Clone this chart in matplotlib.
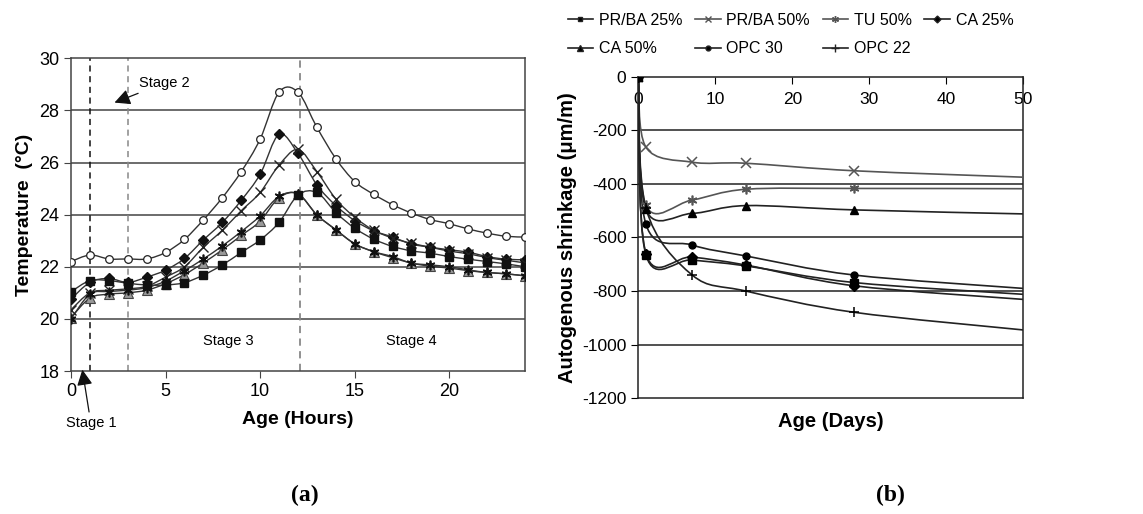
import matplotlib
matplotlib.use("Agg")
import matplotlib.pyplot as plt
from matplotlib.path import Path
from matplotlib.patches import PathPatch
from matplotlib.lines import Line2D

plt.rcParams['font.family'] = ['Liberation Sans', 'DejaVu Sans']
plt.rcParams['axes.unicode_minus'] = False

# (a) temperature, hourly readings
hours = list(range(25))
temp_opc30 = [22.2, 22.45, 22.3, 22.3, 22.3, 22.55, 23.05, 23.8, 24.65, 25.65, 26.9, 28.7, 28.7,
              27.35, 26.15, 25.27, 24.78, 24.38, 24.06, 23.81, 23.65, 23.45, 23.29, 23.17, 23.14]
temp_ca25 = [20.76, 21.4, 21.55, 21.4, 21.6, 21.87, 22.32, 23.03, 23.7, 24.55, 25.55, 27.08, 26.35,
             25.14, 24.35, 23.77, 23.38, 23.14, 22.87, 22.75, 22.65, 22.56, 22.39, 22.29, 22.27]
temp_prba50 = [20.35, 21.0, 21.1, 21.15, 21.25, 21.6, 22.0, 22.75, 23.4, 24.15, 24.85, 25.9, 26.5,
               25.65, 24.6, 23.9, 23.4, 23.1, 22.9, 22.75, 22.6, 22.5, 22.35, 22.25, 22.15]
temp_prba25 = [21.04, 21.47, 21.47, 21.37, 21.3, 21.3, 21.39, 21.68, 22.07, 22.55, 23.03, 23.7, 24.75,
               24.85, 24.08, 23.48, 23.06, 22.78, 22.61, 22.52, 22.39, 22.29, 22.2, 22.11, 22.0]
temp_tu50 = [20.0, 20.95, 21.05, 21.1, 21.2, 21.45, 21.85, 22.3, 22.8, 23.35, 23.95, 24.7, 24.8,
             23.99, 23.42, 22.88, 22.58, 22.39, 22.14, 22.07, 22.0, 21.88, 21.78, 21.73, 21.65]
temp_ca50 = [20.05, 20.8, 20.95, 21.0, 21.1, 21.35, 21.7, 22.15, 22.65, 23.2, 23.75, 24.65, 24.8,
             23.99, 23.42, 22.88, 22.58, 22.35, 22.14, 22.02, 21.95, 21.85, 21.78, 21.73, 21.65]
stage_lines = [1, 3, 12.1]

# (b) autogenous shrinkage, last point is the line end (no marker)
days = [0, 1, 7, 14, 28, 50]
shr_prba25 = [0, -665, -684, -706, -768, -812]
shr_prba50 = [0, -263, -319, -323, -351, -375]
shr_tu50 = [0, -480, -460, -420, -417, -418]
shr_ca25 = [0, -660, -673, -703, -780, -831]
shr_ca50 = [0, -495, -510, -481, -497, -512]
shr_opc30 = [0, -551, -628, -669, -740, -790]
shr_opc22 = [0, -490, -740, -800, -879, -945]

STAR = (6, 2, 0)


def smooth_path(x, y):
    # Excel-like smoothed line: Catmull-Rom segments as cubic beziers
    pts = list(zip(x, y))
    verts = [pts[0]]
    codes = [Path.MOVETO]
    n = len(pts)
    for i in range(n - 1):
        p0 = pts[max(i - 1, 0)]
        p1 = pts[i]
        p2 = pts[i + 1]
        p3 = pts[min(i + 2, n - 1)]
        c1 = (p1[0] + (p2[0] - p0[0]) / 6, p1[1] + (p2[1] - p0[1]) / 6)
        c2 = (p2[0] - (p3[0] - p1[0]) / 6, p2[1] - (p3[1] - p1[1]) / 6)
        verts += [c1, c2, p2]
        codes += [Path.CURVE4] * 3
    return Path(verts, codes)


def draw(ax, x, y, color, lw, nmark=None, **mk):
    ax.add_patch(PathPatch(smooth_path(x, y), fill=False, edgecolor=color, lw=lw, zorder=3))
    k = len(x) if nmark is None else nmark
    ax.plot(x[:k], y[:k], ls='none', zorder=4, **mk)


fig = plt.figure(figsize=(11.43, 5.14), dpi=100)

# ---------- (a) ----------
ax1 = fig.add_axes([0.0621, 0.2782, 0.3972, 0.6084])
ax1.set_xlim(0, 24)
ax1.set_ylim(18, 30)
ax1.set_yticks(range(18, 31, 2))
ax1.set_xticks(range(0, 21, 5))
for v in range(20, 30, 2):
    ax1.axhline(v, color='#444444', lw=1.1, zorder=1)
for s in ax1.spines.values():
    s.set_color('#444444')
    s.set_linewidth(1.1)
ax1.tick_params(labelsize=13, length=5, color='#444444')

ax1.axvline(stage_lines[0], color='#111111', ls=(0, (4, 3)), lw=1.1, zorder=2)
ax1.axvline(stage_lines[1], color='#888888', ls=(0, (4, 3)), lw=1.1, zorder=2)
ax1.axvline(stage_lines[2], color='#888888', ls=(0, (4, 3)), lw=1.3, zorder=2)

lc = '#333333'
draw(ax1, hours, temp_opc30, lc, 1.0, marker='o', ms=5.5, mfc='white', mec='#222222', mew=0.9)
draw(ax1, hours, temp_ca25, lc, 1.0, marker='D', ms=5, mfc='#111111', mec='#111111')
draw(ax1, hours, temp_prba50, lc, 1.0, marker='x', ms=7, mec='#222222', mew=1.0)
draw(ax1, hours, temp_ca50, lc, 1.0, marker='^', ms=6.5, mfc='#999999', mec='#444444', mew=0.8)
draw(ax1, hours, temp_tu50, lc, 1.0, marker=STAR, ms=7, mec='#111111', mew=1.2)
draw(ax1, hours, temp_prba25, lc, 1.0, marker='s', ms=5.5, mfc='#111111', mec='#111111')

arrow = dict(arrowstyle='-|>,head_length=0.9,head_width=0.45', color='#111111', lw=0.9,
             shrinkA=1, shrinkB=0)
ax1.annotate('Stage 2', xy=(2.3, 28.3), xytext=(3.6, 29.05), fontsize=10.5,
             va='center', ha='left', arrowprops=arrow)
ax1.annotate('Stage 1', xy=(0.6, 18.05), xytext=(1.05, 16.0), fontsize=10.5,
             va='center', ha='center', arrowprops=arrow, annotation_clip=False)
ax1.text(8.3, 19.15, 'Stage 3', fontsize=10.5, ha='center', va='center')
ax1.text(18.0, 19.15, 'Stage 4', fontsize=10.5, ha='center', va='center')
ax1.set_xlabel('Age (Hours)', fontsize=14, fontweight='bold', labelpad=8)
ax1.set_ylabel('Temperature  (\u00b0C)', fontsize=14, fontweight='bold', labelpad=4)

# ---------- (b) ----------
ax2 = fig.add_axes([0.5584, 0.2251, 0.3369, 0.6257])
ax2.set_xlim(0, 50)
ax2.set_ylim(-1200, 0)
ax2.set_yticks(range(-1200, 1, 200))
ax2.set_xticks(range(0, 51, 10))
for v in range(-1000, 0, 200):
    ax2.axhline(v, color='#222222', lw=1.1, zorder=1)
for s in ax2.spines.values():
    s.set_color('#222222')
    s.set_linewidth(1.1)
ax2.xaxis.set_ticks_position('top')
ax2.tick_params(axis='x', direction='in', length=5, pad=-22, labelsize=12.5)
ax2.tick_params(axis='y', length=5, labelsize=12.5)

dk = '#222222'
gr = '#555555'
draw(ax2, days, shr_prba50, gr, 1.2, 5, marker='x', ms=6.5, mec=gr, mew=1.1)
draw(ax2, days, shr_tu50, gr, 1.2, 5, marker=STAR, ms=7, mec=gr, mew=1.2)
draw(ax2, days, shr_ca50, dk, 1.2, 5, marker='^', ms=6, mfc='black', mec='black')
draw(ax2, days, shr_opc30, dk, 1.2, 5, marker='o', ms=5, mfc='black', mec='black')
draw(ax2, days, shr_ca25, dk, 1.2, 5, marker='D', ms=5, mfc='black', mec='black')
draw(ax2, days, shr_opc22, dk, 1.2, 5, marker='+', ms=7, mec='black', mew=1.1)
draw(ax2, days, shr_prba25, dk, 1.2, 5, marker='s', ms=5.5, mfc='black', mec='black')

ax2.set_xlabel('Age (Days)', fontsize=14.5, fontweight='bold', labelpad=10)
ax2.set_ylabel('Autogenous shrinkage (\u03bcm/m)', fontsize=14.5, fontweight='bold', labelpad=4)

h_prba25 = Line2D([], [], color=dk, marker='s', ms=3.5, mfc='black', lw=1.2)
h_prba50 = Line2D([], [], color=gr, marker='x', ms=4.5, mew=1.0, lw=1.2)
h_tu50 = Line2D([], [], color=gr, marker=STAR, ms=5, mew=1.0, lw=1.2)
h_ca25 = Line2D([], [], color=dk, marker='D', ms=3.5, mfc='black', lw=1.2)
h_ca50 = Line2D([], [], color=dk, marker='^', ms=4, mfc='black', lw=1.2)
h_opc30 = Line2D([], [], color=dk, marker='o', ms=3.5, mfc='black', lw=1.2)
h_opc22 = Line2D([], [], color=dk, marker='+', ms=6, mew=1.0, lw=1.2)
# legend fills column by column, so list the entries column-wise
handles = [h_prba25, h_ca50, h_prba50, h_opc30, h_tu50, h_opc22, h_ca25]
labels = ['PR/BA 25%', 'CA 50%', 'PR/BA 50%', 'OPC 30', 'TU 50%', 'OPC 22', 'CA 25%']
fig.legend(handles, labels, loc='upper left', bbox_to_anchor=(0.484, 1.003), ncol=4,
           frameon=False, fontsize=11.5, handlelength=1.6, handletextpad=0.35,
           columnspacing=0.8, labelspacing=0.85)

fig.text(0.267, 0.037, '(a)', fontsize=17, fontweight='bold', family='Liberation Serif',
         ha='center', va='center')
fig.text(0.779, 0.037, '(b)', fontsize=17, fontweight='bold', family='Liberation Serif',
         ha='center', va='center')

fig.savefig('out.png', dpi=100)
